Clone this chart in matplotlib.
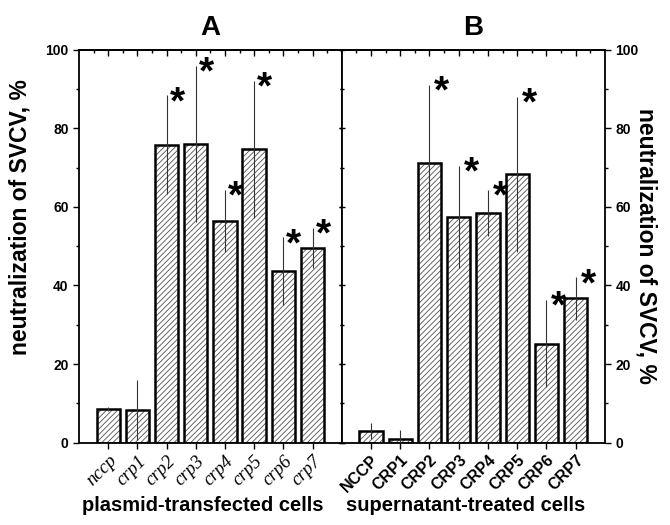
import matplotlib
matplotlib.use('Agg')
import matplotlib.pyplot as plt
from matplotlib.ticker import MultipleLocator
import numpy as np

plt.rcParams['font.family'] = ['Liberation Sans', 'DejaVu Sans']
plt.rcParams['hatch.linewidth'] = 0.6

# panel A: plasmid-transfected cells
labelsA = ['nccp', 'crp1', 'crp2', 'crp3', 'crp4', 'crp5', 'crp6', 'crp7']
valuesA = [8.5, 8.3, 75.8, 76.0, 56.5, 74.7, 43.7, 49.6]
errorsA = [0.5, 7.7, 12.6, 19.9, 7.9, 17.5, 8.6, 5.1]
starsA = [False, False, True, True, True, True, True, True]

# panel B: supernatant-treated cells
labelsB = ['NCCP', 'CRP1', 'CRP2', 'CRP3', 'CRP4', 'CRP5', 'CRP6', 'CRP7']
valuesB = [2.9, 1.0, 71.3, 57.5, 58.5, 68.3, 25.2, 36.7]
errorsB = [2.0, 2.2, 19.8, 13.0, 5.8, 19.7, 11.1, 5.4]
starsB = [False, False, True, True, True, True, True, True]

ylabel = 'neutralization of SVCV, %'

fig = plt.figure(figsize=(6.7, 5.25), dpi=100)
axA = fig.add_axes([0.118, 0.157, 0.392, 0.748])
axB = fig.add_axes([0.510, 0.157, 0.393, 0.748])


def draw_panel(ax, labels, values, errors, stars, dx):
    x = np.arange(1, len(labels) + 1)
    # hatch fill in grey, outline in black on top
    ax.bar(x, values, width=0.8, color='white', edgecolor='#505050',
           hatch='//////', linewidth=0, zorder=2)
    ax.bar(x, values, width=0.8, fill=False, edgecolor='black',
           linewidth=1.8, zorder=3)
    ax.errorbar(x, values, yerr=errors, fmt='none', ecolor='#333333',
                elinewidth=0.8, capsize=0, zorder=4)
    for xi, v, e, s in zip(x, values, errors, stars):
        if s:
            ax.text(xi + dx, v + e - 2.0, '*', fontsize=28, fontweight='bold',
                    ha='center', va='center', zorder=5)
    ax.set_xlim(0, len(labels) + 1)
    ax.set_ylim(0, 100)
    ax.set_xticks(x)
    ax.yaxis.set_major_locator(MultipleLocator(20))
    ax.yaxis.set_minor_locator(MultipleLocator(10))
    for sp in ax.spines.values():
        sp.set_linewidth(1.3)
    ax.tick_params(axis='x', which='major', direction='out', length=4, width=1, pad=3)
    ax.tick_params(axis='y', which='both', width=1, labelsize=10)
    ax.tick_params(axis='y', which='major', length=4)
    ax.tick_params(axis='y', which='minor', length=2.5)
    # top ticks pointing inwards
    top = ax.secondary_xaxis('top')
    top.set_xticks(x)
    top.set_xticks(np.arange(0.5, len(labels) + 1, 1.0), minor=True)
    top.tick_params(which='major', direction='in', length=4, width=1, labeltop=False)
    top.tick_params(which='minor', direction='in', length=2.5, width=1)
    top.spines['top'].set_linewidth(1.3)


draw_panel(axA, labelsA, valuesA, errorsA, starsA, 0.36)
draw_panel(axB, labelsB, valuesB, errorsB, starsB, 0.42)

# panel A
axA.set_xticklabels(labelsA, rotation=45, ha='right', rotation_mode='anchor',
                    family='Liberation Serif', style='italic', fontsize=13.5)
axA.tick_params(axis='y', which='both', left=True, right=True)
for t in axA.get_yticklabels():
    t.set_fontweight('bold')
axA.set_ylabel(ylabel, fontsize=16.5, fontweight='bold')
axA.yaxis.set_label_coords(-0.18, 0.575)
axA.set_xlabel('plasmid-transfected cells', fontsize=14.5, fontweight='bold')
axA.xaxis.set_label_coords(0.47, -0.135)
axA.set_title('A', fontsize=20, fontweight='bold', pad=11)

# panel B
axB.set_xticklabels(labelsB, rotation=45, ha='right', rotation_mode='anchor',
                    fontweight='bold', fontsize=11.5)
axB.yaxis.tick_right()
axB.yaxis.set_label_position('right')
axB.tick_params(axis='y', which='both', left=True, right=True, labelleft=False)
for t in axB.get_yticklabels():
    t.set_fontweight('bold')
axB.set_ylabel(ylabel, fontsize=16.5, fontweight='bold', rotation=270)
axB.yaxis.set_label_coords(1.20, 0.5)
axB.set_xlabel('supernatant-treated cells', fontsize=14.5, fontweight='bold')
axB.xaxis.set_label_coords(0.47, -0.135)
axB.set_title('B', fontsize=20, fontweight='bold', pad=11)

# ticks on the shared border cross the spine
for t in axB.yaxis.get_major_ticks() + axB.yaxis.get_minor_ticks():
    t.tick1line.set_marker('_')
for t in axA.yaxis.get_major_ticks() + axA.yaxis.get_minor_ticks():
    t.tick2line.set_marker('_')

fig.savefig('out.png', dpi=100)
